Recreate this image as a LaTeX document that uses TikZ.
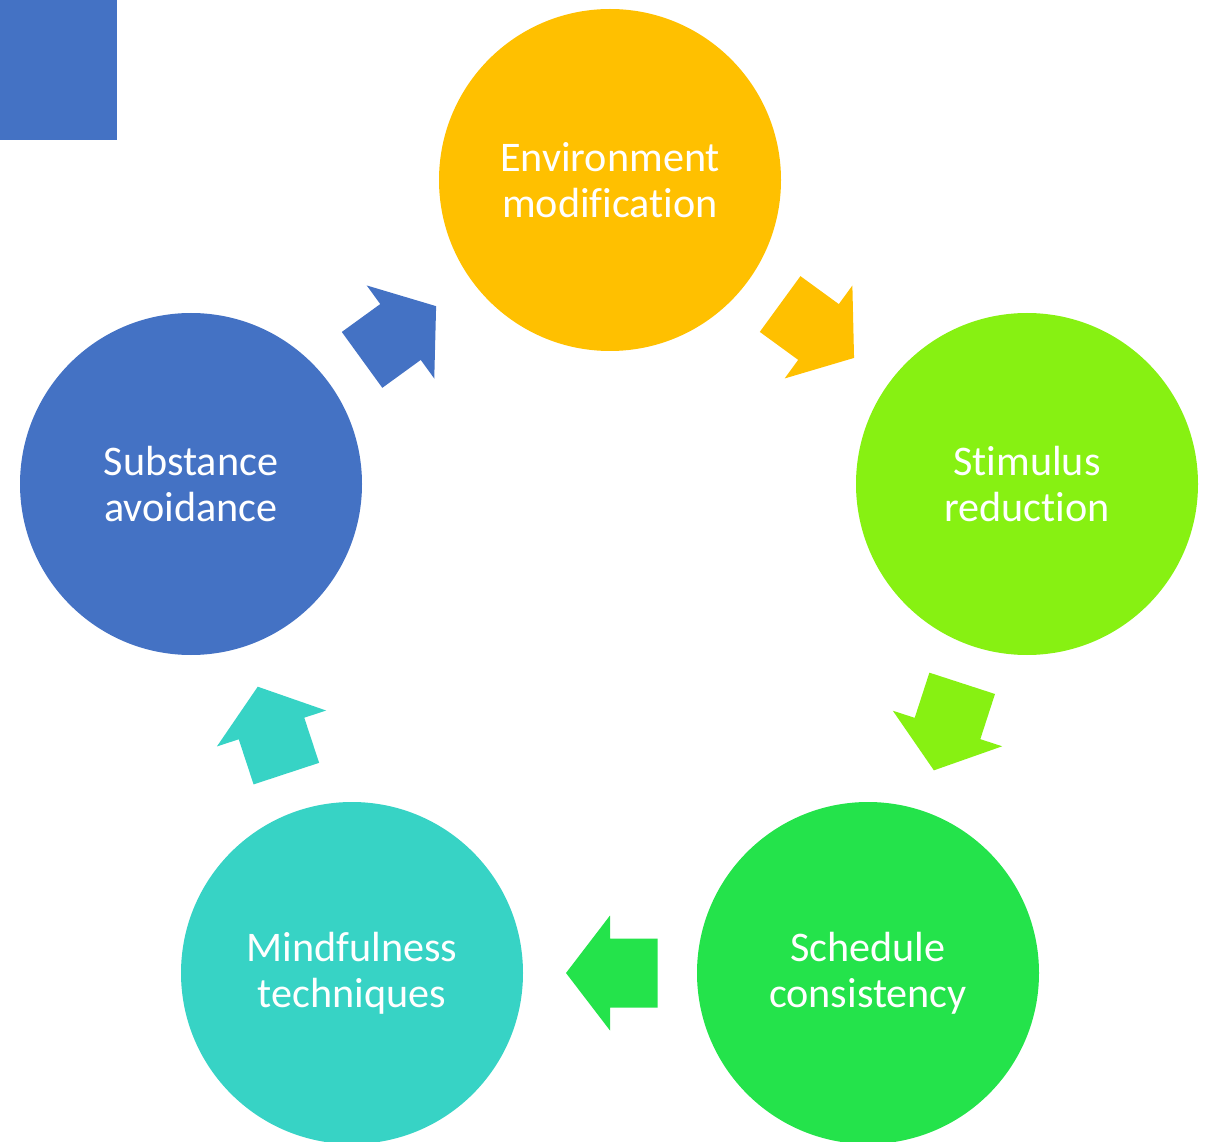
\documentclass[tikz,border=0pt]{standalone}
\usepackage{fontspec}
\setmainfont[Ligatures=NoCommon]{Carlito}
\usepackage{tikz}
\usetikzlibrary{calc}
\definecolor{envcol}{HTML}{FFC000}
\definecolor{stimcol}{HTML}{87F112}
\definecolor{schedcol}{HTML}{24E34B}
\definecolor{mindcol}{HTML}{37D3C5}
\definecolor{subcol}{HTML}{4472C4}

% block arrow half way between two discs, coloured like the first one
\newcommand{\cyclearrow}[3]{%
  \fill[#3] let \p1=($(#2)-(#1)$), \n1={atan2(\y1,\x1)}, \p2=($(#1)!0.5!(#2)$) in
    ($(\p2)+({\n1}:0.88cm)$)
    -- ($(\p2)+({\n1+90}:1.15cm)$)
    -- ($(\p2)+({\n1+90}:0.69cm)$)
    -- ($(\p2)+({\n1+90}:0.69cm)+({\n1+180}:0.95cm)$)
    -- ($(\p2)+({\n1-90}:0.69cm)+({\n1+180}:0.95cm)$)
    -- ($(\p2)+({\n1-90}:0.69cm)$)
    -- ($(\p2)+({\n1-90}:1.15cm)$) -- cycle;}

\begin{document}
\begin{tikzpicture}[disc/.style={circle, minimum size=6.84cm, inner sep=0pt, text=white, align=center, font=\fontsize{24}{26}\selectfont}]
\useasboundingbox (0,0) rectangle (24.100,-22.840);
\fill[subcol] (0,0) rectangle (2.340,-2.800);
\node[disc, fill=envcol] (env) at (12.200,-3.600) {Environment\\modification};
\node[disc, fill=stimcol] (stim) at (20.540,-9.680) {Stimulus\\reduction};
\node[disc, fill=schedcol] (sched) at (17.360,-19.460) {Schedule\\consistency};
\node[disc, fill=mindcol] (mind) at (7.040,-19.460) {Mindfulness\\techniques};
\node[disc, fill=subcol] (subst) at (3.820,-9.680) {Substance\\avoidance};
\cyclearrow{env}{stim}{envcol}
\cyclearrow{stim}{sched}{stimcol}
\cyclearrow{sched}{mind}{schedcol}
\cyclearrow{mind}{subst}{mindcol}
\cyclearrow{subst}{env}{subcol}
\end{tikzpicture}
\end{document}
